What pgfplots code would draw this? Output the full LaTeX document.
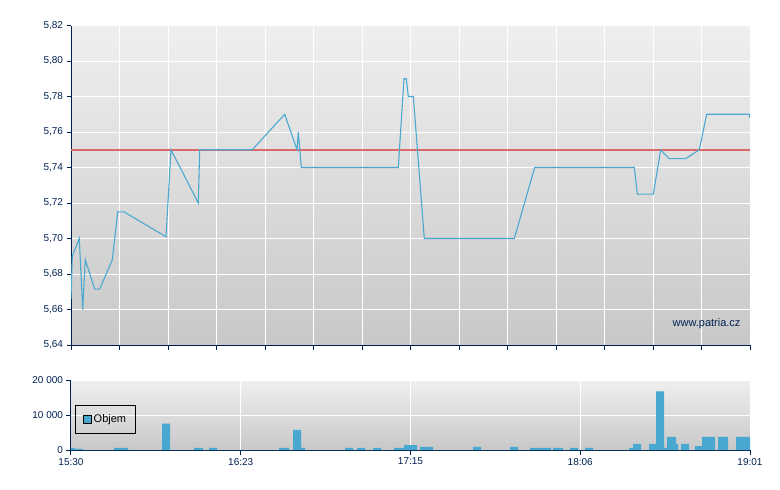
\documentclass[border=0pt]{standalone}
\usepackage{pgfplots}
\pgfplotsset{compat=1.18}
\usepackage{pgfplotstable}
\usepackage{fontspec}
\setmainfont{Liberation Sans}
\definecolor{navy}{RGB}{0,32,80}
\definecolor{lineblue}{RGB}{75,169,209}
\definecolor{barblue}{RGB}{72,168,208}
\definecolor{refline}{RGB}{220,105,105}
\definecolor{bgtop}{RGB}{239,239,239}
\definecolor{bgbot}{RGB}{200,200,200}

\pgfplotstableread{
x y
71 5.666
72.3 5.69
79.3 5.70
82.7 5.66
85.3 5.688
94.7 5.6715
99.7 5.6715
112.3 5.688
117.7 5.715
124 5.715
166 5.701
171 5.75
198.3 5.72
199.7 5.75
252.3 5.75
284.7 5.77
297 5.75
298.3 5.76
301.3 5.74
398.3 5.74
404 5.79
406.3 5.79
408.3 5.78
413.3 5.78
424.3 5.70
514.3 5.70
534.7 5.74
634.3 5.74
637.3 5.725
653.3 5.725
660.7 5.75
669 5.745
685.7 5.745
699.3 5.75
706.7 5.77
749 5.77
750 5.768
}\pricetable

\pgfplotstableread{
x h
71 600
75 300
83 0
114 600
128 0
162 7600
170 0
194 600
203 0
209 600
217 0
279 600
289 0
293 5800
301 600
305 0
345 600
353 0
357 600
365 0
373 600
381 0
394 600
404 1400
417 0
420 900
433 0
473 900
481 0
510 900
518 0
530 600
551 0
553 600
563 0
570 600
578 0
585 600
593 0
629 600
633 1750
641 0
649 1750
656 16800
664 600
667 3800
676 1750
678 0
681 1750
689 0
695 1100
702 3800
715 0
718 3800
728 0
736 3800
750 0
}\voltable

\pgfplotsset{
  common/.style={
    scale only axis,
    width=679pt,
    xmin=71, xmax=750,
    enlargelimits=false,
    axis lines=left,
    axis line style={-, draw=navy, line width=1pt},
    tick style={draw=navy, line width=1pt},
    tick align=outside,
    major tick length=4.5pt,
    grid=major,
    grid style={white, line width=1pt},
    axis background/.style={top color=bgtop, bottom color=bgbot},
    ticklabel style={font=\fontsize{10}{12}\selectfont, text=navy},
    /pgf/number format/assume math mode=true,
    scaled ticks=false,
  }
}

\begin{document}
\begin{tikzpicture}
\path[use as bounding box] (0pt,0pt) rectangle (780pt,-490pt);

\begin{axis}[common,
  at={(71pt,-345pt)}, anchor=south west,
  height=319.5pt,
  ymin=5.64, ymax=5.82,
  ytick={5.64,5.66,...,5.82},
  yticklabel style={/pgf/number format/.cd, fixed, fixed zerofill, precision=2, use comma},
  xtick={71,119.5,...,750},
  xticklabels={},
]
\addplot[draw=refline, line width=1.7pt, forget plot] coordinates {(71,5.75) (750,5.75)};
\addplot[draw=lineblue, line width=1.1pt, forget plot] table[x=x, y=y] {\pricetable};
\node[anchor=east, text=navy, font=\fontsize{11}{13}\selectfont] at (axis cs:744,5.652) {www.patria.cz};
\end{axis}

\begin{axis}[common,
  at={(71pt,-450pt)}, anchor=south west,
  height=69.7pt,
  ymin=0, ymax=20000,
  ytick={0,10000,20000},
  yticklabels={0,10 000,20 000},
  xtick={71,240.75,410.5,580.25,750},
  xticklabels={15:30,16:23,17:15,18:06,19:01},
  legend style={at={(0.0059,0.641)}, anchor=north west, draw=black, line width=0.8pt, fill=none,
    font=\fontsize{11}{12}\selectfont, inner xsep=7.5pt, inner ysep=7pt},
  legend cell align=left,
]
\addplot[ybar interval, fill=barblue, draw=none,
  legend image code/.code={\draw[fill=barblue, draw=black, line width=0.8pt] (0pt,-4pt) rectangle (8pt,4pt);}]
  table[x=x, y=h] {\voltable};
\addlegendentry{Objem}
\end{axis}
\end{tikzpicture}
\end{document}
